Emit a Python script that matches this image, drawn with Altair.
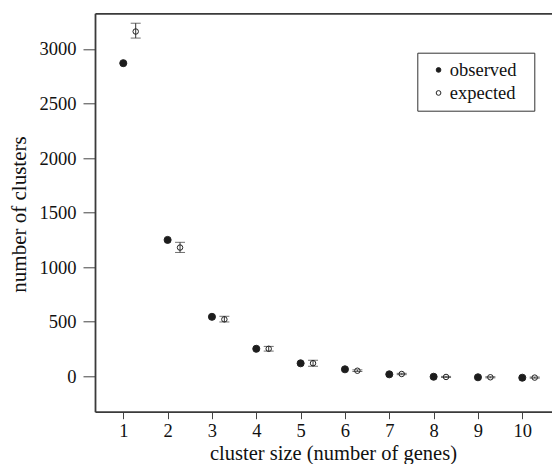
import altair as alt
import pandas as pd

sizes = [1, 2, 3, 4, 5, 6, 7, 8, 9, 10]
observed = [2870, 1250, 545, 252, 119, 64, 18, -4, -9, -13]
expected = [3160, 1180, 522, 252, 120, 51, 21, -6, -9, -12]
expected_lo = [3100, 1135, 498, 231, 92, 44, 15, -11, -14, -17]
expected_hi = [3236, 1228, 550, 274, 147, 59, 27, -1, -4, -7]
series_names = ["observed", "expected"]
y_ticks = [0, 500, 1000, 1500, 2000, 2500, 3000]

EXP_SHIFT = 0.28

rows = []
for s, o, e in zip(sizes, observed, expected):
    rows.append({"size": s, "series": "observed", "value": o, "xpos": s})
    rows.append({"size": s, "series": "expected", "value": e, "xpos": s + EXP_SHIFT})
df = pd.DataFrame(rows)

err = pd.DataFrame({
    "xpos": [s + EXP_SHIFT for s in sizes],
    "lo": expected_lo,
    "hi": expected_hi,
})

FONT = "Liberation Serif"
INK = "#333333"

xscale = alt.Scale(domain=[0.362, 10.67], nice=False, zero=False)
yscale = alt.Scale(domain=[-324.5, 3327], nice=False, zero=False)

yaxis = alt.Axis(values=y_ticks, tickSize=12, labelPadding=7, format="d",
                 title="number of clusters", titleX=-70, titleY=200.7,
                 titleBaseline="alphabetic", labelOverlap=False)

fill_enc = alt.Fill(
    "series:N",
    scale=alt.Scale(domain=series_names, range=["#1c1c1c", "transparent"]),
    legend=alt.Legend(
        title=None, orient="none", legendX=322.3, legendY=39.4,
        strokeColor=INK, padding=8, symbolOffset=4, labelOffset=2,
        labelFont=FONT, labelFontSize=18.5, labelColor="#111111",
        rowPadding=4, symbolSize=22, symbolType="circle",
        symbolStrokeColor="#222222", symbolStrokeWidth=1,
        labelExpr="datum.label + '\u00a0\u00a0\u200d'"),
)

rules = alt.Chart(err).mark_rule(color=INK, strokeWidth=1).encode(
    x=alt.X("xpos:Q", scale=xscale,
            axis=alt.Axis(orient="top", labels=False, ticks=False, domain=True),
            title=None),
    y=alt.Y("lo:Q", scale=yscale, axis=yaxis),
    y2="hi:Q",
)

caps = alt.Chart(err).transform_fold(["lo", "hi"], as_=["end", "val"]).mark_tick(
    orient="horizontal", size=10, thickness=1, color=INK
).encode(
    x=alt.X("xpos:Q", scale=xscale, axis=None),
    y=alt.Y("val:Q", scale=yscale, axis=yaxis),
)

obs_pts = alt.Chart(df).transform_filter(alt.datum.series == "observed").mark_point(
    filled=True, shape="circle", stroke="#222222", strokeWidth=1, opacity=1, size=50
).encode(
    x=alt.X("xpos:Q", scale=xscale,
            axis=alt.Axis(values=sizes, tickSize=7, labelPadding=3, format="d",
                          title="cluster size (number of genes)",
                          titleFontSize=20.5,
                          titleX=238, titleY=47.6, titleBaseline="alphabetic",
                          labelOverlap=False)),
    y=alt.Y("value:Q", scale=yscale, axis=yaxis),
    fill=fill_enc,
)

exp_pts = alt.Chart(df).transform_filter(alt.datum.series == "expected").mark_point(
    filled=True, shape="circle", stroke="#222222", strokeWidth=1, opacity=1, size=30
).encode(
    x=alt.X("xpos:Q", scale=xscale, axis=None),
    y=alt.Y("value:Q", scale=yscale, axis=yaxis),
    fill=fill_enc,
)

chart = alt.layer(rules, caps, obs_pts, exp_pts).resolve_axis(x="independent").properties(
    width=457,
    height=398.4,
    autosize=alt.AutoSizeParams(type="none"),
    padding={"left": 87, "top": 5.3, "right": 0, "bottom": 52.3},
).configure_view(stroke=None).configure_axis(
    labelFont=FONT, labelFontSize=18.5, labelColor="#111111",
    titleFont=FONT, titleFontSize=21, titleFontWeight="normal", titleColor="#111111",
    domainColor="#3a3a3a", domainWidth=1.8, tickColor="#444444", tickWidth=1,
    grid=False,
)

chart.save("out.html", embed_options={"renderer": "svg", "actions": False})
